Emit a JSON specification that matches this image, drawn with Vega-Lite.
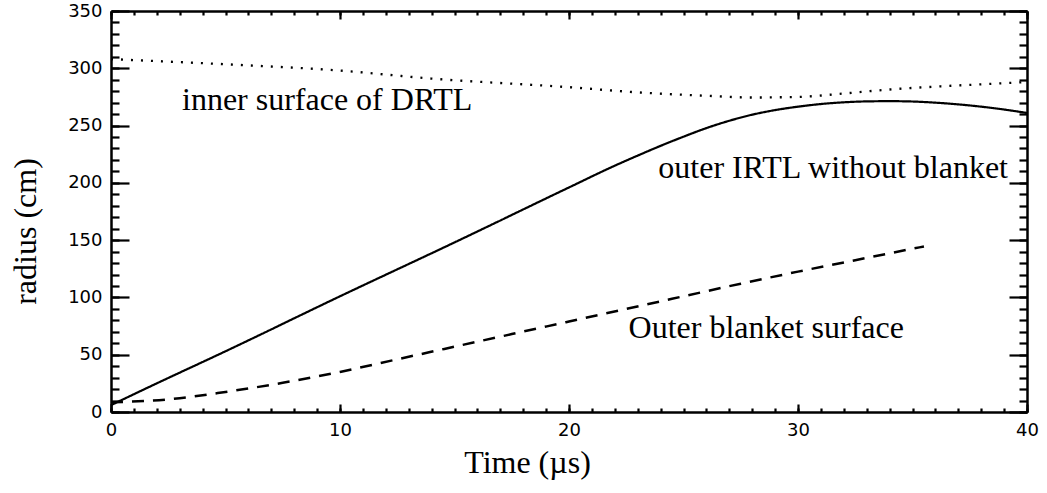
{
  "$schema": "https://vega.github.io/schema/vega-lite/v6.json",
  "width": 916,
  "height": 401,
  "autosize": {"type": "none"},
  "padding": {"left": 111, "top": 11, "right": 20, "bottom": 81},
  "background": "white",
  "config": {
    "view": {"stroke": null},
    "axis": {
      "labelFont": "DejaVu Sans",
      "labelFontSize": 18,
      "labelColor": "black",
      "titleFont": "Liberation Serif",
      "titleFontSize": 32,
      "titleFontWeight": "normal",
      "titleColor": "black",
      "domainColor": "black",
      "domainWidth": 2.5,
      "tickColor": "black",
      "tickWidth": 2.2,
      "grid": false,
      "labelFlush": false,
      "labelOverlap": false
    }
  },
  "datasets": {
    "curves": [
      {"series": "IRTL", "t": 0, "r": 6},
      {"series": "IRTL", "t": 2, "r": 25},
      {"series": "IRTL", "t": 5, "r": 53},
      {"series": "IRTL", "t": 10, "r": 101},
      {"series": "IRTL", "t": 15, "r": 148},
      {"series": "IRTL", "t": 20, "r": 196},
      {"series": "IRTL", "t": 22, "r": 215},
      {"series": "IRTL", "t": 23, "r": 223.8},
      {"series": "IRTL", "t": 24, "r": 232.3},
      {"series": "IRTL", "t": 25, "r": 240.3},
      {"series": "IRTL", "t": 26, "r": 247.8},
      {"series": "IRTL", "t": 27, "r": 254.2},
      {"series": "IRTL", "t": 28, "r": 259.5},
      {"series": "IRTL", "t": 29, "r": 263.5},
      {"series": "IRTL", "t": 30, "r": 266.5},
      {"series": "IRTL", "t": 31, "r": 268.8},
      {"series": "IRTL", "t": 32, "r": 270.3},
      {"series": "IRTL", "t": 33, "r": 271.1},
      {"series": "IRTL", "t": 34, "r": 271.3},
      {"series": "IRTL", "t": 35, "r": 271},
      {"series": "IRTL", "t": 36, "r": 270},
      {"series": "IRTL", "t": 37, "r": 268.5},
      {"series": "IRTL", "t": 38, "r": 266.5},
      {"series": "IRTL", "t": 39, "r": 264},
      {"series": "IRTL", "t": 40, "r": 261},
      {"series": "DRTL", "t": 0, "r": 308},
      {"series": "DRTL", "t": 5, "r": 303.5},
      {"series": "DRTL", "t": 10, "r": 298},
      {"series": "DRTL", "t": 14, "r": 291},
      {"series": "DRTL", "t": 20, "r": 283.5},
      {"series": "DRTL", "t": 23, "r": 279},
      {"series": "DRTL", "t": 26, "r": 276},
      {"series": "DRTL", "t": 28, "r": 274.5},
      {"series": "DRTL", "t": 30, "r": 275},
      {"series": "DRTL", "t": 32, "r": 278},
      {"series": "DRTL", "t": 34, "r": 281.5},
      {"series": "DRTL", "t": 36, "r": 284},
      {"series": "DRTL", "t": 38, "r": 286},
      {"series": "DRTL", "t": 40, "r": 288},
      {"series": "blanket", "t": 0, "r": 8.5},
      {"series": "blanket", "t": 2.5, "r": 11},
      {"series": "blanket", "t": 5, "r": 17.5},
      {"series": "blanket", "t": 7.5, "r": 25.5},
      {"series": "blanket", "t": 10, "r": 35},
      {"series": "blanket", "t": 12.5, "r": 46},
      {"series": "blanket", "t": 15, "r": 57},
      {"series": "blanket", "t": 17.5, "r": 68},
      {"series": "blanket", "t": 20, "r": 79},
      {"series": "blanket", "t": 22.5, "r": 90},
      {"series": "blanket", "t": 25, "r": 101},
      {"series": "blanket", "t": 27.5, "r": 112},
      {"series": "blanket", "t": 30, "r": 122.5},
      {"series": "blanket", "t": 32.5, "r": 132.5},
      {"series": "blanket", "t": 35.5, "r": 144.5}
    ],
    "labels": [
      {"text": "inner surface of DRTL", "t": 3.1, "r": 263.8},
      {"text": "outer IRTL without blanket", "t": 23.9, "r": 204.2},
      {"text": "Outer blanket surface", "t": 22.6, "r": 64.6}
    ]
  },
  "data": {"name": "curves"},
  "resolve": {"axis": {"x": "independent", "y": "independent"}},
  "layer": [
    {
      "mark": {"type": "line", "color": "black", "interpolate": "monotone"},
      "encoding": {
        "x": {
          "field": "t", "type": "quantitative",
          "scale": {"domain": [0, 40], "nice": false, "zero": false},
          "axis": {
            "orient": "bottom", "title": "Time (µs)", "values": [0, 10, 20, 30, 40],
            "tickSize": -8, "labelPadding": 17, "domain": true,
            "titleX": 416, "titleY": 60, "titleBaseline": "alphabetic", "titleAlign": "center", "titleAnchor": null
          }
        },
        "y": {
          "field": "r", "type": "quantitative",
          "scale": {"domain": [0, 350], "nice": false, "zero": false},
          "axis": {
            "orient": "left", "title": "radius (cm)", "values": [0, 50, 100, 150, 200, 250, 300, 350],
            "tickSize": -18, "labelPadding": 27, "domain": true,
            "titleX": -76, "titleY": 220, "titleBaseline": "alphabetic", "titleAlign": "center", "titleAngle": -90, "titleAnchor": null
          }
        },
        "detail": {"field": "series"},
        "strokeDash": {
          "field": "series", "type": "nominal",
          "scale": {"domain": ["IRTL", "DRTL", "blanket"], "range": [[1, 0], [2, 8], [12, 9]]},
          "legend": null
        },
        "strokeWidth": {
          "field": "series", "type": "nominal",
          "scale": {"domain": ["IRTL", "DRTL", "blanket"], "range": [2.2, 2.5, 2]},
          "legend": null
        }
      }
    },
    {
      "mark": {"type": "point", "opacity": 0},
      "encoding": {
        "x": {"field": "t", "type": "quantitative", "axis": {"orient": "bottom", "values": [0,1,2,3,4,5,6,7,8,9,10,11,12,13,14,15,16,17,18,19,20,21,22,23,24,25,26,27,28,29,30,31,32,33,34,35,36,37,38,39,40], "tickSize": -4, "labels": false, "domain": false, "title": null}},
        "y": {"field": "r", "type": "quantitative", "axis": {"orient": "left", "values": [0,10,20,30,40,50,60,70,80,90,100,110,120,130,140,150,160,170,180,190,200,210,220,230,240,250,260,270,280,290,300,310,320,330,340,350], "tickSize": -8, "labels": false, "domain": false, "title": null}}
      }
    },
    {
      "mark": {"type": "point", "opacity": 0},
      "encoding": {
        "x": {"field": "t", "type": "quantitative", "axis": {"orient": "top", "values": [0, 10, 20, 30, 40], "tickSize": -8, "labels": false, "domain": true, "title": null}},
        "y": {"field": "r", "type": "quantitative", "axis": {"orient": "right", "values": [0, 50, 100, 150, 200, 250, 300, 350], "tickSize": -18, "labels": false, "domain": true, "title": null}}
      }
    },
    {
      "mark": {"type": "point", "opacity": 0},
      "encoding": {
        "x": {"field": "t", "type": "quantitative", "axis": {"orient": "top", "values": [0,1,2,3,4,5,6,7,8,9,10,11,12,13,14,15,16,17,18,19,20,21,22,23,24,25,26,27,28,29,30,31,32,33,34,35,36,37,38,39,40], "tickSize": -4, "labels": false, "domain": false, "title": null}},
        "y": {"field": "r", "type": "quantitative", "axis": {"orient": "right", "values": [0,10,20,30,40,50,60,70,80,90,100,110,120,130,140,150,160,170,180,190,200,210,220,230,240,250,260,270,280,290,300,310,320,330,340,350], "tickSize": -8, "labels": false, "domain": false, "title": null}}
      }
    },
    {
      "data": {"name": "labels"},
      "mark": {"type": "text", "font": "Liberation Serif", "fontSize": 32, "color": "black", "align": "left", "baseline": "alphabetic"},
      "encoding": {
        "x": {"field": "t", "type": "quantitative", "axis": null},
        "y": {"field": "r", "type": "quantitative", "axis": null},
        "text": {"field": "text"}
      }
    }
  ]
}
